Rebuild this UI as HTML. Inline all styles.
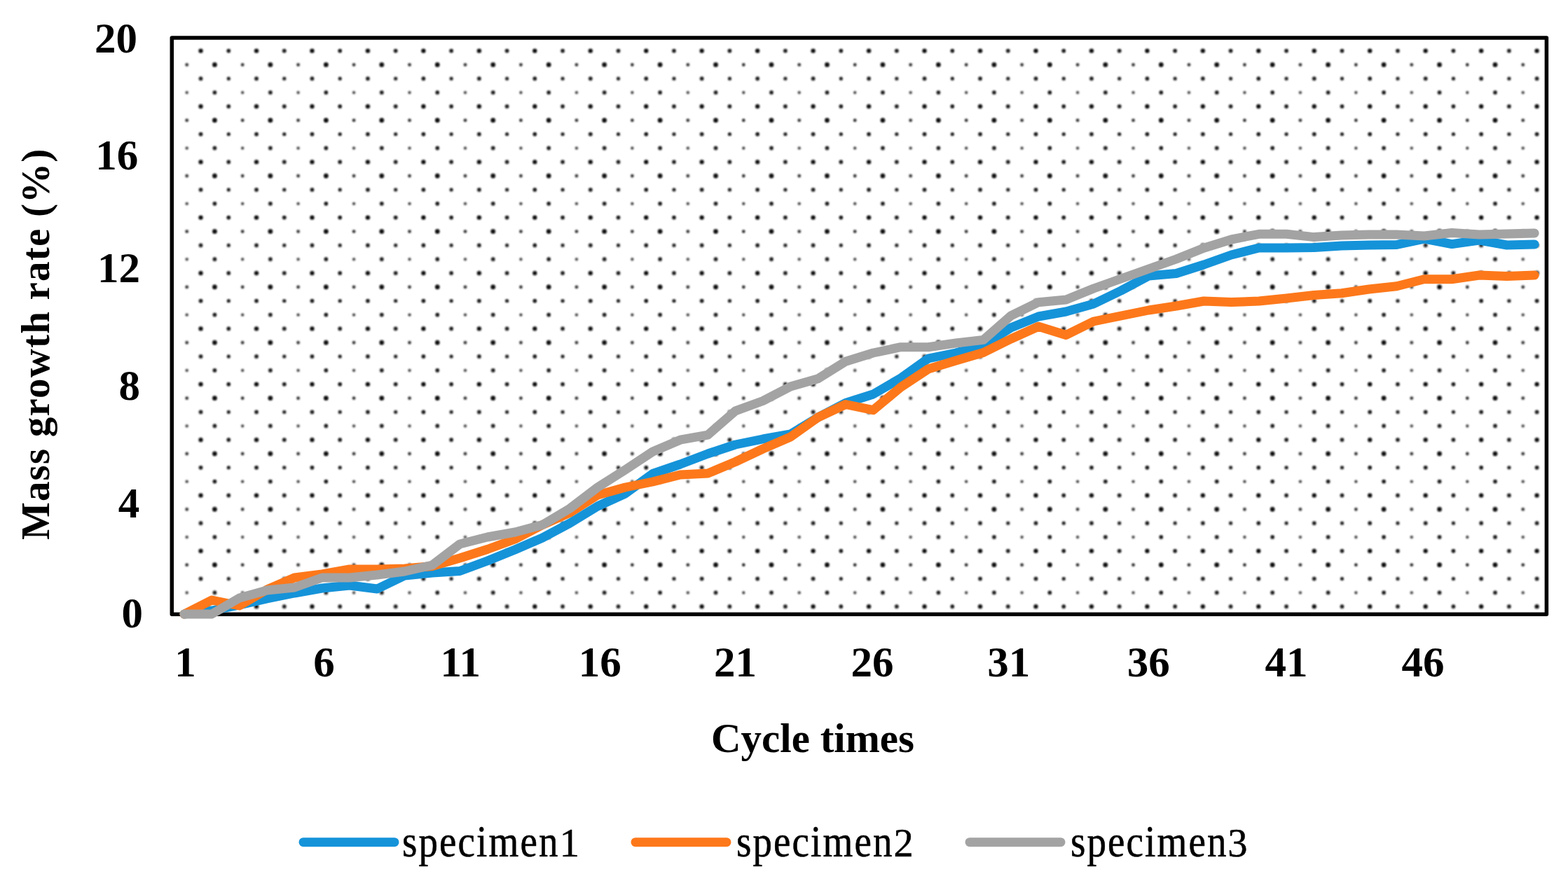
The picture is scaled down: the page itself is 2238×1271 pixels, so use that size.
<!DOCTYPE html>
<html><head><meta charset="utf-8"><title>Mass growth rate chart</title>
<style>
html,body{margin:0;padding:0;background:#fff;}
body{width:2238px;height:1271px;overflow:hidden;}
svg{display:block;}
.t{font-family:"Liberation Serif","Times New Roman",serif;font-weight:bold;fill:#000;}
.lg{font-family:"Liberation Serif","Times New Roman",serif;font-weight:normal;fill:#000;stroke:#000;stroke-width:0.5px;}
</style></head><body>
<svg width="2238" height="1271" viewBox="0 0 2238 1271">
<defs>
<pattern id="dots" patternUnits="userSpaceOnUse" x="256.47" y="62.98" width="79.46" height="79.36">
<circle cx="30.09" cy="9.62" r="3.15" fill="#111"/>
<circle cx="69.83" cy="9.62" r="2.85" fill="#1a1a1a"/>
<circle cx="10.23" cy="29.46" r="2.45" fill="#383838"/>
<circle cx="49.96" cy="29.46" r="3.35" fill="#0a0a0a"/>
<circle cx="30.09" cy="49.30" r="2.85" fill="#1a1a1a"/>
<circle cx="69.83" cy="49.30" r="2.65" fill="#262626"/>
<circle cx="10.23" cy="69.14" r="2.25" fill="#4a4a4a"/>
<circle cx="49.96" cy="69.14" r="2.85" fill="#1a1a1a"/>
</pattern>
<filter id="bl" x="0" y="0" width="1" height="1"><feGaussianBlur stdDeviation="0.8"/></filter>
</defs>
<rect width="2238" height="1271" fill="#fff"/>
<rect x="251" y="56.5" width="1953.9" height="818.3" fill="url(#dots)" filter="url(#bl)"/>
<rect x="245.3" y="54.0" width="1962.1000000000001" height="823.3" fill="none" stroke="#000" stroke-width="5.5" stroke-linejoin="round"/>
<polyline points="263.0,877.0 302.3,872.0 341.7,864.0 381.0,855.0 420.3,847.0 459.6,840.0 499.0,836.0 538.3,841.0 577.6,822.0 617.0,818.0 656.3,815.5 695.6,801.0 735.0,785.0 774.3,768.0 813.6,747.0 852.9,723.0 892.3,705.0 931.6,676.5 970.9,663.0 1010.3,648.0 1049.6,635.0 1088.9,627.0 1128.3,620.0 1167.6,596.0 1206.9,575.5 1246.2,563.0 1285.6,540.0 1324.9,512.0 1364.2,504.0 1403.6,493.0 1442.9,468.0 1482.2,452.0 1521.6,445.0 1560.9,434.0 1600.2,415.0 1639.5,394.0 1678.9,390.5 1718.2,378.0 1757.5,364.0 1796.9,354.0 1836.2,354.0 1875.5,353.6 1914.9,351.0 1954.2,350.0 1993.5,349.5 2032.8,341.0 2072.2,348.6 2111.5,343.0 2150.8,350.0 2190.2,349.0" fill="none" stroke="#1593d9" stroke-width="13" stroke-linejoin="round" stroke-linecap="round"/>
<polyline points="263.0,877.0 302.3,857.0 341.7,865.0 381.0,842.0 420.3,825.0 459.6,820.0 499.0,813.0 538.3,813.0 577.6,812.0 617.0,808.5 656.3,797.0 695.6,784.5 735.0,770.0 774.3,749.5 813.6,732.0 852.9,707.0 892.3,696.0 931.6,688.0 970.9,678.0 1010.3,676.0 1049.6,659.5 1088.9,641.0 1128.3,624.0 1167.6,596.0 1206.9,577.5 1246.2,585.7 1285.6,553.0 1324.9,527.0 1364.2,515.0 1403.6,503.5 1442.9,484.0 1482.2,466.3 1521.6,478.5 1560.9,459.0 1600.2,451.0 1639.5,443.0 1678.9,437.0 1718.2,430.0 1757.5,431.5 1796.9,430.0 1836.2,426.0 1875.5,421.5 1914.9,418.7 1954.2,413.0 1993.5,408.7 2032.8,398.7 2072.2,398.7 2111.5,393.0 2150.8,394.4 2190.2,393.0" fill="none" stroke="#fd781a" stroke-width="13" stroke-linejoin="round" stroke-linecap="round"/>
<polyline points="263.0,877.0 302.3,877.0 341.7,854.0 381.0,843.0 420.3,839.0 459.6,825.0 499.0,825.0 538.3,821.0 577.6,816.0 617.0,807.0 656.3,777.0 695.6,767.0 735.0,760.0 774.3,749.5 813.6,726.0 852.9,696.0 892.3,671.0 931.6,645.0 970.9,628.2 1010.3,621.1 1049.6,586.9 1088.9,572.5 1128.3,552.0 1167.6,540.7 1206.9,516.2 1246.2,504.0 1285.6,495.7 1324.9,495.7 1364.2,490.0 1403.6,485.4 1442.9,450.8 1482.2,431.7 1521.6,428.0 1560.9,412.0 1600.2,398.0 1639.5,384.0 1678.9,370.0 1718.2,354.3 1757.5,342.0 1796.9,334.3 1836.2,334.3 1875.5,338.6 1914.9,336.0 1954.2,335.0 1993.5,335.0 2032.8,337.0 2072.2,332.5 2111.5,335.0 2150.8,334.0 2190.2,333.0" fill="none" stroke="#a4a3a3" stroke-width="13" stroke-linejoin="round" stroke-linecap="round"/>
<text class="t" x="196.0" y="75.4" font-size="61" text-anchor="end">20</text>
<text class="t" x="197.3" y="242.2" font-size="61" text-anchor="end">16</text>
<text class="t" x="200.0" y="403.4" font-size="61" text-anchor="end">12</text>
<text class="t" x="200.0" y="570.7" font-size="61" text-anchor="end">8</text>
<text class="t" x="199.3" y="738.5" font-size="61" text-anchor="end">4</text>
<text class="t" x="204.0" y="896.3" font-size="61" text-anchor="end">0</text>
<text class="t" x="264.6" y="966" font-size="61" text-anchor="middle">1</text>
<text class="t" x="462.4" y="966" font-size="61" text-anchor="middle">6</text>
<text class="t" x="657.2" y="966" font-size="61" text-anchor="middle">11</text>
<text class="t" x="856.3" y="966" font-size="61" text-anchor="middle">16</text>
<text class="t" x="1049.4" y="966" font-size="61" text-anchor="middle">21</text>
<text class="t" x="1245" y="966" font-size="61" text-anchor="middle">26</text>
<text class="t" x="1439.7" y="966" font-size="61" text-anchor="middle">31</text>
<text class="t" x="1639.2" y="966" font-size="61" text-anchor="middle">36</text>
<text class="t" x="1835.9" y="966" font-size="61" text-anchor="middle">41</text>
<text class="t" x="2031.1" y="966" font-size="61" text-anchor="middle">46</text>
<text class="t" x="1160" y="1074.3" font-size="59" text-anchor="middle">Cycle times</text>
<text class="t" transform="translate(70.1,491.3) rotate(-90)" x="0" y="0" font-size="57" letter-spacing="1.2" text-anchor="middle">Mass growth rate (%)</text>
<line x1="433" y1="1202.7" x2="563" y2="1202.7" stroke="#1593d9" stroke-width="13" stroke-linecap="round"/>
<text class="lg" transform="translate(574,1223.3) scale(1,1.134)" x="0" y="0" font-size="55" letter-spacing="2.1">specimen</text><text class="lg" x="812.9" y="1223.4" font-size="56.5" text-anchor="middle">1</text>
<line x1="907" y1="1202.7" x2="1037" y2="1202.7" stroke="#fd781a" stroke-width="13" stroke-linecap="round"/>
<text class="lg" transform="translate(1051,1223.3) scale(1,1.134)" x="0" y="0" font-size="55" letter-spacing="2.1">specimen</text><text class="lg" x="1289.6" y="1223.4" font-size="56.5" text-anchor="middle">2</text>
<line x1="1384" y1="1202.7" x2="1514" y2="1202.7" stroke="#a4a3a3" stroke-width="13" stroke-linecap="round"/>
<text class="lg" transform="translate(1528,1223.3) scale(1,1.134)" x="0" y="0" font-size="55" letter-spacing="2.1">specimen</text><text class="lg" x="1766.3" y="1223.4" font-size="56.5" text-anchor="middle">3</text>
</svg>
</body></html>
